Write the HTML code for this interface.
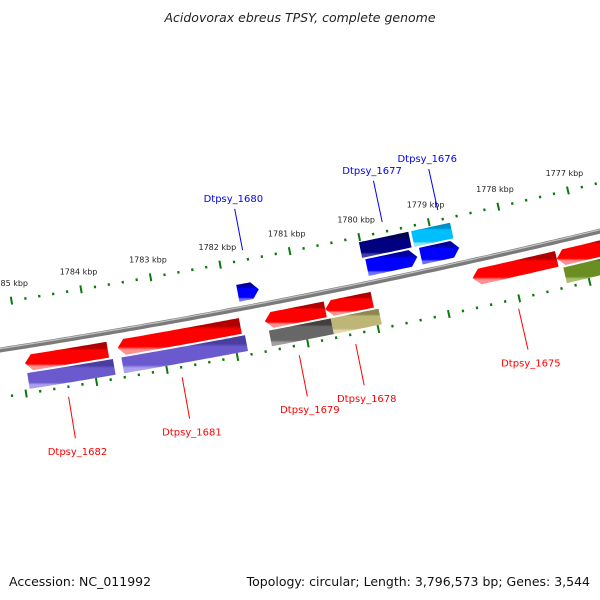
<!DOCTYPE html>
<html><head><meta charset="utf-8"><style>
body{margin:0;background:#fff;}
svg{display:block;font-family:"DejaVu Sans","Liberation Sans",sans-serif;}
</style></head><body>
<svg id="chart" width="600" height="600" viewBox="0 0 600 600">
<defs id="defs"></defs>
<text x="300" y="22" text-anchor="middle" font-size="12.5" font-style="italic" fill="#222">Acidovorax ebreus TPSY, complete genome</text>
<text x="9" y="586" font-size="12.5" fill="#111">Accession: NC_011992</text>
<text x="590" y="586" text-anchor="end" font-size="12.5" fill="#111">Topology: circular; Length: 3,796,573 bp; Genes: 3,544</text>
<g id="layer"></g>
</svg>
<script>
// ---- data ----
const geneNames = ["Dtpsy_1682","Dtpsy_1682b","Dtpsy_1681","Dtpsy_1681b","Dtpsy_1679","Dtpsy_1679b","Dtpsy_1678","Dtpsy_1678b","Dtpsy_1675","Dtpsy_1674","Dtpsy_1674b","Dtpsy_1680","Dtpsy_1677b","Dtpsy_1677","Dtpsy_1676b","Dtpsy_1676"];
const geneStart = [1784.95,1784.94,1783.63,1783.60,1781.53,1781.50,1780.67,1780.62,1778.57,1777.37,1777.31,1781.83,1780.02,1779.98,1779.27,1779.21];
const geneEnd   = [1783.77,1783.72,1781.88,1781.84,1780.67,1780.62,1780.00,1779.94,1777.37,1776.40,1776.40,1781.53,1779.31,1779.26,1778.71,1778.66];
const geneStrand = ["-","x","-","x","-","x","-","x","-","-","x","+","x","+","x","+"];
const geneRow = [1,2,1,2,1,2,1,2,1,1,2,-1,-2,-1,-2,-1];
const geneColor = ["red","purple","red","purple","red","grey","red","khaki","red","red","olive","blue","navy","blue","sky","blue"];
const labelNames = ["Dtpsy_1682","Dtpsy_1681","Dtpsy_1679","Dtpsy_1678","Dtpsy_1675","Dtpsy_1680","Dtpsy_1677","Dtpsy_1676"];
const labelKbp = [1784.42,1782.81,1781.15,1780.35,1778.04,1781.65,1779.64,1778.84];
const labelSide = [1,1,1,1,1,-1,-1,-1];
const tickStart = 1776.0, tickEnd = 1785.4, tickStep = 0.2;

// ---- geometry ----
const palette = {
 red:["#b00000","#ff0000","#ff9090"], purple:["#4a3ea0","#6a5acd","#aaa0ee"],
 grey:["#404040","#676767","#a0a0a0"], khaki:["#8e8850","#bdb677","#e2dcaa"],
 olive:["#485f14","#6b8e23","#a8c070"], navy:["#000050","#000080","#4040a8"],
 blue:["#0000a0","#0000ff","#7070ff"], sky:["#0090c8","#00bfff","#90e0ff"]};
function yB(t){return 350-0.155*t-7.2e-5*t*t;}
function dY(t){return -(0.155+1.44e-4*t);}
function P(t,off){const d=dY(t),n=Math.sqrt(1+d*d);return [t+(-d/n)*off,yB(t)+(1/n)*off];}
function T(k){return 88.8+(1784-k)*70;}
const NS="http://www.w3.org/2000/svg";
const layer=document.getElementById('layer'), defs=document.getElementById('defs');
function mk(tag,attrs,parent){const e=document.createElementNS(NS,tag);for(const k in attrs)e.setAttribute(k,attrs[k]);(parent||layer).appendChild(e);return e;}
const fmt=p=>p[0].toFixed(1)+","+p[1].toFixed(1);

// gradients
for(const c in palette){
 const g=mk('linearGradient',{id:'g-'+c,x1:0,y1:0,x2:0,y2:1},defs);
 const s=palette[c];
 [[0,s[0]],[0.22,s[0]],[0.3,s[1]],[0.78,s[1]],[0.86,s[2]],[1,s[2]]].forEach(v=>mk('stop',{offset:v[0],'stop-color':v[1]},g));
}

// backbone
let bb=[];for(let t=-10;t<=620;t+=5)bb.push(fmt(P(t,0)));
const b1=mk('polyline',{points:bb.join(' '),fill:'none',stroke:'#7a7a7a','stroke-width':5});

let bh=[];for(let t=-10;t<=620;t+=5)bh.push(fmt(P(t,-1.3)));
const b2=mk('polyline',{points:bh.join(' '),fill:'none',stroke:'#c4c4c4','stroke-width':1.2});


// ticks
const nT=Math.round((tickEnd-tickStart)/tickStep);
for(let i=0;i<=nT;i++){
 const k=tickStart+i*tickStep, t=T(k), major=Math.abs(k-Math.round(k))<1e-6;
 [-47,47].forEach(off=>{
  const h=major?4:1.3;
  const a=P(t,off-h),b=P(t,off+h);
  if(a[0]<2||a[0]>600)return;
  const l=mk('line',{x1:a[0],y1:a[1],x2:b[0],y2:b[1],stroke:'#0a7a0a','stroke-width':major?2:2.2});
  
  
  if(major&&off<0){
   const p=P(t,-62);
   if(p[0]>-10&&p[0]<620){
    const tx=mk('text',{x:p[0],y:p[1],'text-anchor':'middle','font-size':8,fill:'#222'});
    tx.textContent=Math.round(k)+" kbp";
    
    
   }
  }
 });
}

// genes
const rows={"1":[9,25],"2":[27,43],"-1":[-24,-7],"-2":[-42,-26]};
for(let i=0;i<geneNames.length;i++){
 const t1=T(geneStart[i]),t2=T(geneEnd[i]);
 const [o1,o2]=rows[String(geneRow[i])];const om=(o1+o2)/2;
 const head=Math.min(7,(t2-t1)/2);
 let a=t1,b=t2;
 if(geneStrand[i]==="-")a=t1+head; if(geneStrand[i]==="+")b=t2-head;
 const pts=[];
 if(geneStrand[i]==="-")pts.push(P(t1,om));
 for(let t=a;t<b;t+=4)pts.push(P(t,o1)); pts.push(P(b,o1));
 if(geneStrand[i]==="+")pts.push(P(t2,om));
 pts.push(P(b,o2)); for(let t=b;t>a;t-=4)pts.push(P(t,o2)); pts.push(P(a,o2));
 const g=mk('polygon',{points:pts.map(fmt).join(' '),fill:'url(#g-'+geneColor[i]+')'});
 
 
}

// labels
for(let i=0;i<labelNames.length;i++){
 const t=T(labelKbp[i]),s=labelSide[i];
 const a=P(t,s*57),b=P(t,s*99),c=P(t,s*(s>0?112:106));
 const col=s>0?'#ff0000':'#0000ff';
 const l=mk('line',{x1:a[0],y1:a[1],x2:b[0],y2:b[1],stroke:col,'stroke-width':1});
 
 
 const tx=mk('text',{x:c[0],y:c[1]+(s>0?4:0),'text-anchor':'middle','font-size':10,fill:col});
 tx.textContent=labelNames[i];
 
 
}
</script>
</body></html>
